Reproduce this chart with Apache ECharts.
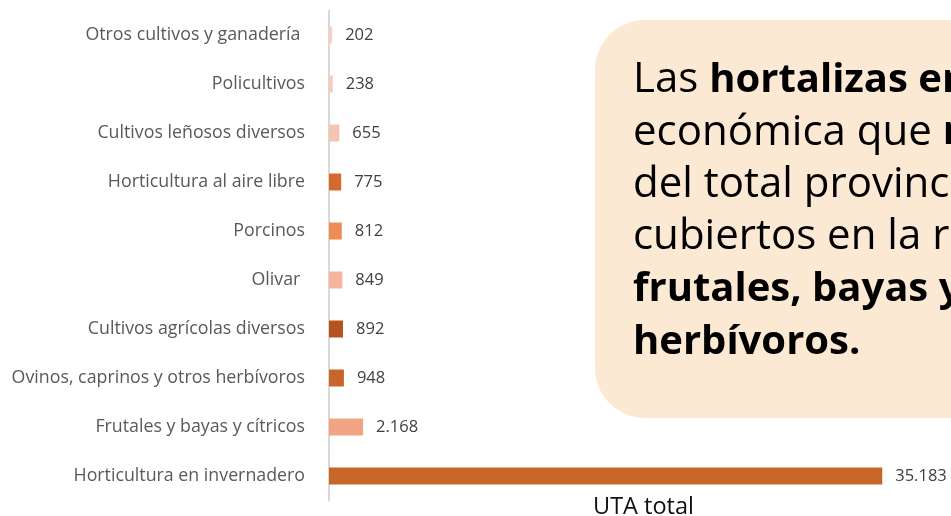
<!DOCTYPE html>
<html>
<head>
<meta charset="utf-8">
<script src="https://cdn.jsdelivr.net/npm/echarts@6/dist/echarts.min.js"></script>
<style>
html,body{margin:0;padding:0;background:#fff;}
#chart{width:951px;height:516px;}
</style>
</head>
<body>
<div id="chart"></div>
<script>
// Categories, top to bottom
var categories = [
  'Otros cultivos y ganadería ',
  'Policultivos',
  'Cultivos leñosos diversos',
  'Horticultura al aire libre',
  'Porcinos',
  'Olivar ',
  'Cultivos agrícolas diversos',
  'Ovinos, caprinos y otros herbívoros',
  'Frutales y bayas y cítricos',
  'Horticultura en invernadero'
];
var utaValues = [202, 238, 655, 775, 812, 849, 892, 948, 2168, 35183];
var barColors = ['#F8CFC4', '#F7CBBE', '#F6C4B3', '#D56A2C', '#EF8C56', '#F4B49D', '#B5531F', '#C8652A', '#F2A384', '#C66629'];
var axisName = 'UTA total';

var FONT = '"Open Sans", sans-serif';

function fmt(v) {
  return String(v).replace(/\B(?=(\d{3})+(?!\d))/g, '.');
}

var chart = echarts.init(document.getElementById('chart'), null, {renderer: 'canvas'});
chart.setOption({
  backgroundColor: '#ffffff',
  animation: false,
  grid: {left: 329, top: 10.5, width: 629, height: 490, containLabel: false, outerBoundsMode: 'none'},
  xAxis: {
    type: 'value',
    min: 0,
    max: 40000,
    axisLine: {show: false},
    axisTick: {show: false},
    axisLabel: {show: false},
    splitLine: {show: false},
    name: axisName,
    nameLocation: 'middle',
    nameGap: 7,
    nameTextStyle: {color: '#111111', fontSize: 23.5, fontFamily: FONT, verticalAlign: 'middle'}
  },
  yAxis: {
    type: 'category',
    inverse: true,
    data: categories,
    axisLine: {show: true, lineStyle: {color: '#D9D9D9', width: 2}},
    axisTick: {show: false},
    axisLabel: {color: '#595959', fontSize: 17.8, fontFamily: FONT, margin: 24}
  },
  series: [{
    type: 'bar',
    barWidth: 17,
    data: utaValues.map(function (v, i) {
      return {value: v, itemStyle: {color: barColors[i]}};
    }),
    label: {
      show: true,
      position: 'right',
      distance: 13,
      color: '#404040',
      fontSize: 16.5,
      fontFamily: FONT,
      formatter: function (p) { return fmt(p.value); }
    }
  }],
  graphic: [
    {
      type: 'rect',
      shape: {x: 595, y: 20, width: 420, height: 398, r: 50},
      style: {fill: '#FCE9D4'},
      z: 10
    },
    {
      type: 'text',
      x: 633,
      y: 54,
      z: 11,
      style: {
        text: 'Las {b|hortalizas en}\neconómica que {b|r}\ndel total provinc\ncubiertos en la r\n{b|frutales, bayas y}\n{b|herbívoros.}',
        fill: '#000000',
        fontFamily: FONT,
        fontSize: 42,
        lineHeight: 52.4,
        rich: {
          b: {fontWeight: 'bold', fontSize: 40, fontFamily: FONT, lineHeight: 52.4, fill: '#000000'}
        }
      }
    }
  ]
});
</script>
</body>
</html>
